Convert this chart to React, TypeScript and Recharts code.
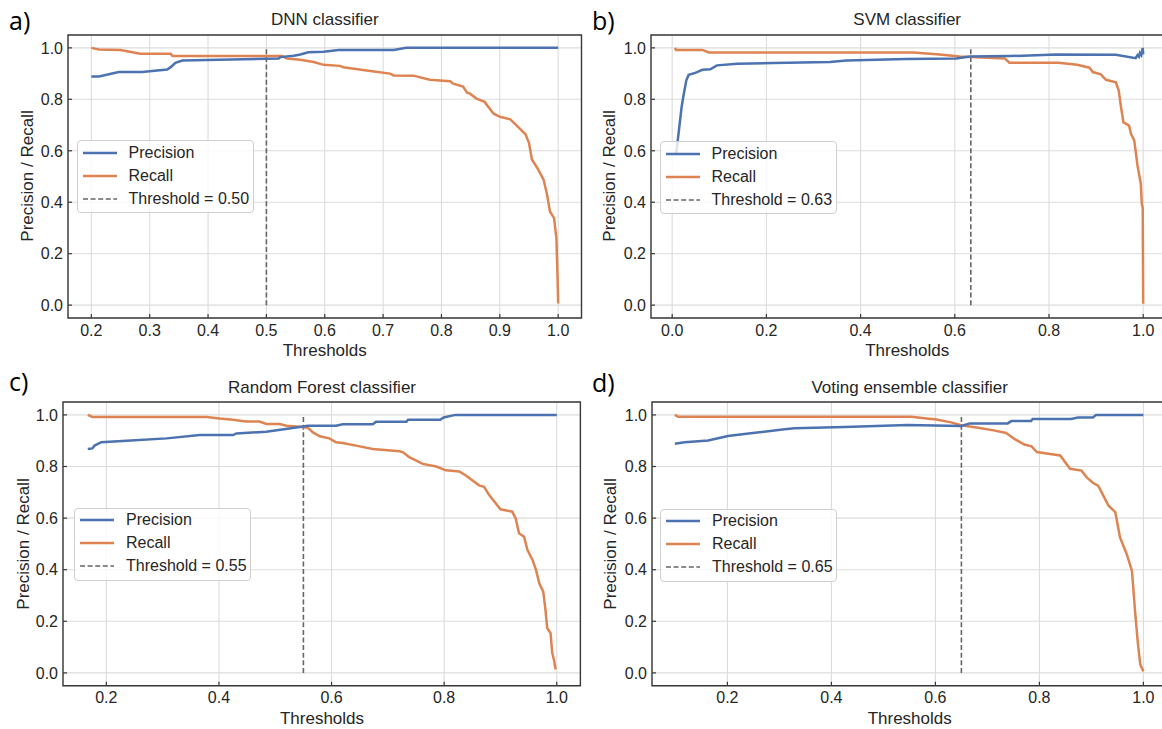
import React from 'react';
import { LineChart, Line, XAxis, YAxis, CartesianGrid, ReferenceLine, ReferenceArea } from 'recharts';

// precision / recall curves, as [threshold, value]
const dnnPrecision = [
  [0.2, 0.889], [0.213, 0.889], [0.247, 0.906], [0.287, 0.906], [0.33, 0.916], [0.336, 0.925],
  [0.344, 0.942], [0.356, 0.951], [0.521, 0.959], [0.524, 0.964], [0.547, 0.969], [0.558, 0.974],
  [0.572, 0.983], [0.598, 0.985], [0.624, 0.992], [0.718, 0.992], [0.74, 1.0], [1.0, 1.0],
];
const dnnRecall = [
  [0.2, 1.0], [0.213, 0.994], [0.25, 0.992], [0.284, 0.977], [0.336, 0.977], [0.339, 0.968],
  [0.527, 0.968], [0.535, 0.959], [0.558, 0.954], [0.581, 0.945], [0.598, 0.934], [0.626, 0.93],
  [0.632, 0.925], [0.678, 0.91], [0.712, 0.9], [0.718, 0.893], [0.752, 0.892], [0.78, 0.876],
  [0.815, 0.87], [0.82, 0.861], [0.837, 0.85], [0.844, 0.826], [0.849, 0.822], [0.86, 0.803],
  [0.874, 0.79], [0.889, 0.745], [0.9, 0.732], [0.918, 0.722], [0.93, 0.696], [0.944, 0.664],
  [0.95, 0.631], [0.955, 0.566], [0.964, 0.534], [0.975, 0.488], [0.981, 0.429], [0.986, 0.364],
  [0.993, 0.338], [0.997, 0.26], [0.998, 0.182], [0.999, 0.104], [1.0, 0.006],
];

const svmPrecision = [
  [0.008, 0.583], [0.014, 0.675], [0.02, 0.77], [0.024, 0.815], [0.03, 0.874], [0.035, 0.895],
  [0.049, 0.903], [0.064, 0.915], [0.081, 0.917], [0.095, 0.932], [0.138, 0.938], [0.215, 0.941],
  [0.335, 0.945], [0.37, 0.951], [0.497, 0.957], [0.603, 0.959], [0.632, 0.966], [0.716, 0.968],
  [0.815, 0.974], [0.942, 0.973], [0.984, 0.96], [0.988, 0.972], [0.991, 0.966], [0.993, 0.98],
  [0.996, 0.972], [0.999, 1.0], [1.0, 0.975],
];
const svmRecall = [
  [0.006, 1.0], [0.008, 0.992], [0.064, 0.992], [0.078, 0.982], [0.512, 0.982], [0.568, 0.974],
  [0.61, 0.966], [0.706, 0.959], [0.716, 0.942], [0.82, 0.942], [0.86, 0.934], [0.886, 0.923],
  [0.893, 0.906], [0.91, 0.897], [0.921, 0.876], [0.942, 0.866], [0.948, 0.834], [0.953, 0.769],
  [0.958, 0.711], [0.97, 0.698], [0.974, 0.666], [0.981, 0.64], [0.988, 0.542], [0.995, 0.471],
  [0.997, 0.393], [0.999, 0.38], [1.0, 0.005],
];

const rfPrecision = [
  [0.167, 0.868], [0.175, 0.87], [0.179, 0.881], [0.191, 0.894], [0.236, 0.9], [0.307, 0.909],
  [0.366, 0.922], [0.425, 0.922], [0.431, 0.928], [0.484, 0.935], [0.531, 0.949], [0.558, 0.958],
  [0.608, 0.958], [0.62, 0.964], [0.673, 0.964], [0.679, 0.973], [0.733, 0.973], [0.736, 0.981],
  [0.793, 0.981], [0.799, 0.99], [0.82, 1.0], [1.0, 1.0],
];
const rfRecall = [
  [0.167, 1.0], [0.175, 0.992], [0.378, 0.992], [0.401, 0.986], [0.425, 0.981], [0.448, 0.974],
  [0.472, 0.974], [0.484, 0.965], [0.508, 0.965], [0.52, 0.958], [0.543, 0.954], [0.558, 0.95],
  [0.567, 0.932], [0.579, 0.917], [0.596, 0.909], [0.608, 0.894], [0.62, 0.891], [0.65, 0.878],
  [0.673, 0.868], [0.721, 0.859], [0.727, 0.855], [0.738, 0.836], [0.762, 0.81], [0.786, 0.8],
  [0.803, 0.785], [0.827, 0.781], [0.838, 0.766], [0.862, 0.727], [0.871, 0.721], [0.88, 0.689],
  [0.9, 0.634], [0.921, 0.625], [0.927, 0.599], [0.933, 0.541], [0.942, 0.528], [0.948, 0.476],
  [0.957, 0.438], [0.963, 0.4], [0.969, 0.347], [0.976, 0.315], [0.98, 0.244], [0.983, 0.174],
  [0.989, 0.154], [0.992, 0.077], [0.995, 0.051], [0.998, 0.013],
];

const vePrecision = [
  [0.099, 0.888], [0.118, 0.894], [0.163, 0.901], [0.201, 0.918], [0.253, 0.931], [0.31, 0.944],
  [0.329, 0.948], [0.425, 0.953], [0.547, 0.961], [0.65, 0.957], [0.666, 0.967], [0.739, 0.967],
  [0.746, 0.976], [0.784, 0.976], [0.787, 0.984], [0.861, 0.984], [0.874, 0.99], [0.903, 0.99],
  [0.909, 1.0], [1.0, 1.0],
];
const veRecall = [
  [0.099, 1.0], [0.105, 0.993], [0.554, 0.993], [0.579, 0.987], [0.602, 0.982], [0.63, 0.971],
  [0.65, 0.96], [0.682, 0.95], [0.712, 0.94], [0.736, 0.93], [0.752, 0.907], [0.771, 0.885],
  [0.785, 0.878], [0.795, 0.856], [0.84, 0.843], [0.859, 0.791], [0.881, 0.784], [0.891, 0.758],
  [0.904, 0.735], [0.913, 0.726], [0.923, 0.687], [0.933, 0.648], [0.946, 0.623], [0.955, 0.525],
  [0.968, 0.46], [0.978, 0.395], [0.984, 0.239], [0.989, 0.123], [0.994, 0.032], [1.0, 0.006],
];

const dnnThreshold = 0.5;
const svmThreshold = 0.634;
const rfThreshold = 0.55;
const veThreshold = 0.65;

const yTicks = [0, 0.2, 0.4, 0.6, 0.8, 1.0];
const dnnTicks = [0.2, 0.3, 0.4, 0.5, 0.6, 0.7, 0.8, 0.9, 1.0];
const svmTicks = [0, 0.2, 0.4, 0.6, 0.8, 1.0];
const rfTicks = [0.2, 0.4, 0.6, 0.8, 1.0];
const veTicks = [0.2, 0.4, 0.6, 0.8, 1.0];

const BLUE = '#4c72b0';
const ORANGE = '#dd8452';
const INK = '#262626';
const FONT = '"Liberation Sans", Arial, sans-serif';

const YW = 50;
const MT = 10;
const MR = 10;
const XH = 30;
const GAP_Y = 5;
const GAP_X = 6;

const toPoints = (pairs: number[][]) => pairs.map(([t, v]) => ({ t, v }));

const YTick = (props: any) => {
  const { x, y, payload } = props;
  const ax = x + GAP_Y;
  return (
    <g>
      <line x1={ax} x2={ax + 4} y1={y} y2={y} stroke="#3a3a3a" strokeWidth={1.2} />
      <text x={x} y={y} dy="0.36em" textAnchor="end" fill={INK} fontSize={16} fontFamily={FONT}>
        {Number(payload.value).toFixed(1)}
      </text>
    </g>
  );
};

const XTick = (props: any) => {
  const { x, y, payload } = props;
  const ay = y - GAP_X;
  return (
    <g>
      <line x1={x} x2={x} y1={ay} y2={ay - 4} stroke="#3a3a3a" strokeWidth={1.2} />
      <text x={x} y={y} dy="0.72em" textAnchor="middle" fill={INK} fontSize={16} fontFamily={FONT}>
        {Number(payload.value).toFixed(1)}
      </text>
    </g>
  );
};

interface PanelProps {
  letter: string;
  letterPos: [number, number];
  title: string;
  titleY: number;
  labelX: number;
  xLabelY: number;
  plot: [number, number, number, number];
  xDomain: [number, number];
  xTicks: number[];
  precision: number[][];
  recall: number[][];
  threshold: number;
  legendPos: [number, number];
}

const Panel = (p: PanelProps) => {
  const [pl, pt, pw, ph] = p.plot;
  const cx = pl + pw / 2;
  const cy = pt + ph / 2;
  const txt: React.CSSProperties = {
    position: 'absolute',
    fontFamily: FONT,
    color: INK,
    fontSize: 17,
    lineHeight: 1,
    whiteSpace: 'nowrap',
  };
  const legendItems = [
    { label: 'Precision', color: BLUE, dash: undefined as string | undefined, w: 2.5 },
    { label: 'Recall', color: ORANGE, dash: undefined as string | undefined, w: 2.5 },
    { label: `Threshold = ${p.threshold.toFixed(2)}`, color: '#666', dash: '5 2.6', w: 1.6 },
  ];
  return (
    <>
      <div style={{ position: 'absolute', left: pl - YW, top: pt - MT }}>
        <LineChart width={YW + pw + MR} height={MT + ph + XH} margin={{ top: MT, right: MR, left: 0, bottom: 0 }}>
          <CartesianGrid stroke="#dcdcdc" strokeWidth={1.1} />
          <XAxis
            dataKey="t"
            type="number"
            domain={p.xDomain}
            ticks={p.xTicks}
            allowDataOverflow
            height={XH}
            axisLine={false}
            tickLine={false}
            tickSize={0}
            tickMargin={GAP_X}
            tick={<XTick />}
            interval={0}
          />
          <YAxis
            type="number"
            domain={[-0.05, 1.05]}
            ticks={yTicks}
            allowDataOverflow
            width={YW}
            axisLine={false}
            tickLine={false}
            tickSize={0}
            tickMargin={GAP_Y}
            tick={<YTick />}
            interval={0}
          />
          <ReferenceLine
            segment={[{ x: p.threshold, y: 0 }, { x: p.threshold, y: 1 }]}
            stroke="#666"
            strokeWidth={1.6}
            strokeDasharray="5 2.6"
          />
          <Line data={toPoints(p.recall)} dataKey="v" stroke={ORANGE} strokeWidth={2.5} dot={false} activeDot={false} isAnimationActive={false} />
          <Line data={toPoints(p.precision)} dataKey="v" stroke={BLUE} strokeWidth={2.5} dot={false} activeDot={false} isAnimationActive={false} />
          <ReferenceArea x1={p.xDomain[0]} x2={p.xDomain[1]} y1={-0.05} y2={1.05} fill="none" stroke="#3a3a3a" strokeWidth={1.4} ifOverflow="visible" />
        </LineChart>
      </div>
      <div style={{ ...txt, left: cx, top: p.titleY, transform: 'translate(-50%, -50%)' }}>{p.title}</div>
      <div style={{ ...txt, left: cx, top: p.xLabelY, transform: 'translate(-50%, -50%)' }}>Thresholds</div>
      <div style={{ ...txt, left: p.labelX, top: cy, transform: 'translate(-50%, -50%) rotate(-90deg)' }}>Precision / Recall</div>
      <div
        style={{
          position: 'absolute',
          left: p.letterPos[0],
          top: p.letterPos[1],
          transform: 'translateY(-50%)',
          fontFamily: '"Open Sans", sans-serif',
          fontSize: 25,
          lineHeight: 1,
          color: '#000',
        }}
      >
        {p.letter}
      </div>
      <div
        style={{
          position: 'absolute',
          left: p.legendPos[0],
          top: p.legendPos[1],
          width: 177,
          height: 73,
          boxSizing: 'border-box',
          border: '1px solid #cfcfcf',
          borderRadius: 4,
          background: 'rgba(255,255,255,0.8)',
        }}
      >
        {legendItems.map((it) => (
          <div key={it.label} style={{ height: 23, display: 'flex', alignItems: 'center' }}>
            <svg width={46} height={6} style={{ marginLeft: 5 }}>
              <line x1={0} x2={34} y1={3} y2={3} stroke={it.color} strokeWidth={it.w} strokeDasharray={it.dash} />
            </svg>
            <span style={{ fontFamily: FONT, fontSize: 16, color: INK, lineHeight: 1 }}>{it.label}</span>
          </div>
        ))}
      </div>
    </>
  );
};

export default function App() {
  return (
    <div style={{ position: 'absolute', left: 0, top: 0, width: 1162, height: 729, overflow: 'hidden', background: '#fff' }}>
      <Panel
        letter="a)"
        letterPos={[9, 20]}
        title="DNN classifier"
        titleY={19}
        labelX={27}
        xLabelY={350}
        plot={[68, 34.5, 513.5, 283]}
        xDomain={[0.16, 1.04]}
        xTicks={dnnTicks}
        precision={dnnPrecision}
        recall={dnnRecall}
        threshold={dnnThreshold}
        legendPos={[76.5, 140]}
      />
      <Panel
        letter="b)"
        letterPos={[592, 20]}
        title="SVM classifier"
        titleY={19}
        labelX={609}
        xLabelY={350}
        plot={[650.5, 34.5, 513.4, 283]}
        xDomain={[-0.045, 1.045]}
        xTicks={svmTicks}
        precision={svmPrecision}
        recall={svmRecall}
        threshold={svmThreshold}
        legendPos={[659.5, 141]}
      />
      <Panel
        letter="c)"
        letterPos={[9, 381]}
        title="Random Forest classifier"
        titleY={386.5}
        labelX={23}
        xLabelY={718}
        plot={[63.3, 402.1, 517.4, 283.8]}
        xDomain={[0.123, 1.042]}
        xTicks={rfTicks}
        precision={rfPrecision}
        recall={rfRecall}
        threshold={rfThreshold}
        legendPos={[74, 507.6]}
      />
      <Panel
        letter="d)"
        letterPos={[592, 382]}
        title="Voting ensemble classifier"
        titleY={387}
        labelX={610}
        xLabelY={718}
        plot={[652.3, 402.1, 514.8, 283.8]}
        xDomain={[0.055, 1.045]}
        xTicks={veTicks}
        precision={vePrecision}
        recall={veRecall}
        threshold={veThreshold}
        legendPos={[660, 508.6]}
      />
    </div>
  );
}
